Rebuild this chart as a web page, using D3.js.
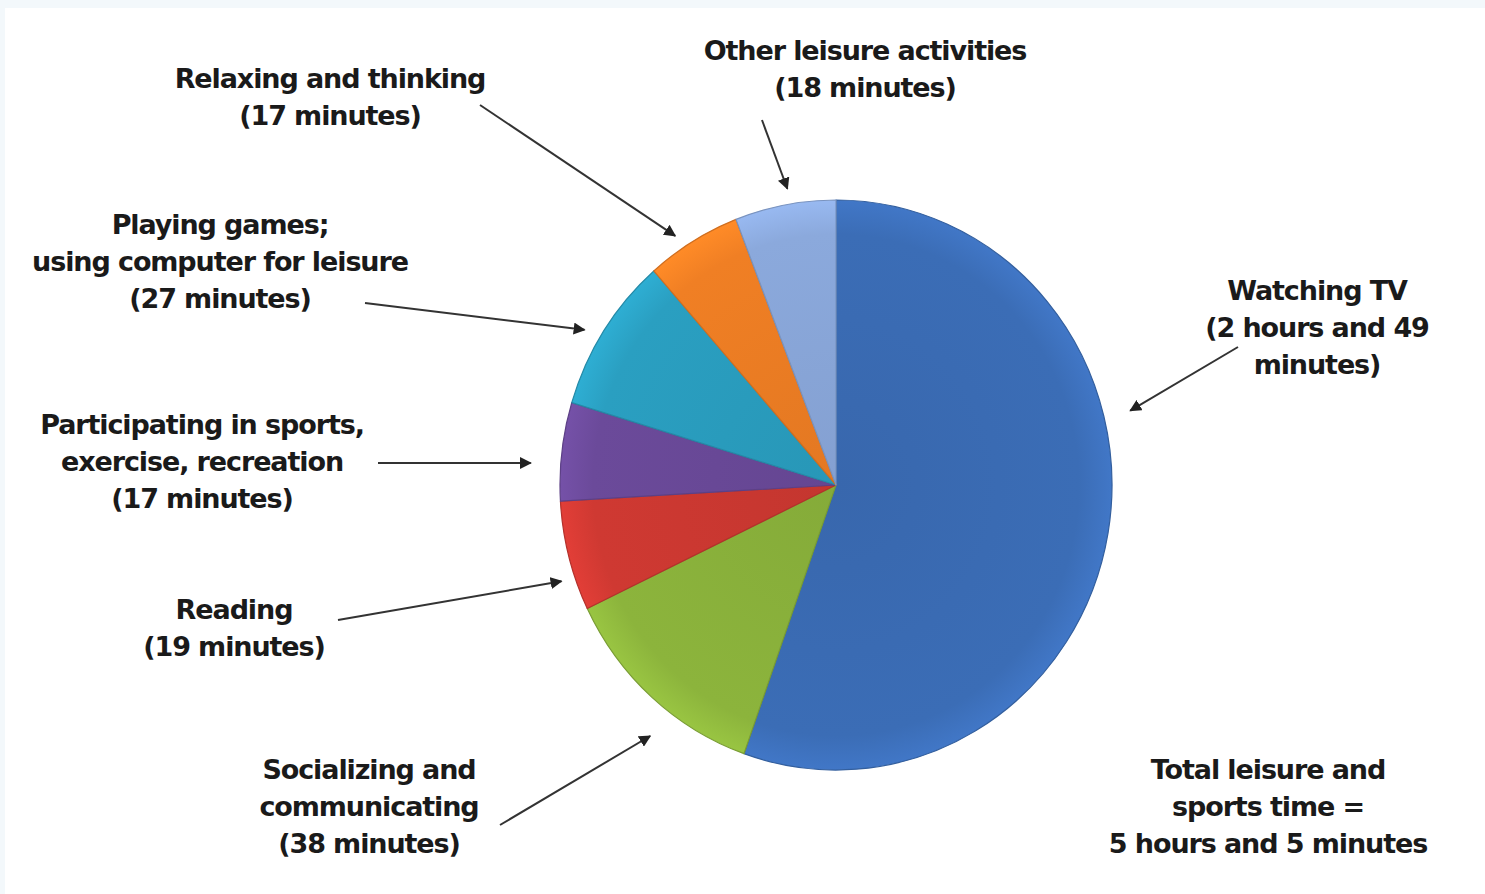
<!DOCTYPE html>
<html><head><meta charset="utf-8">
<script src="https://cdn.jsdelivr.net/npm/d3@7/dist/d3.min.js"></script>
<style>
html,body{margin:0;padding:0;background:#f3f8fb;}
svg{display:block;}
</style></head>
<body>
<script>
// ---- data ----
const categories = ["Watching TV","Socializing and communicating","Reading","Participating in sports, exercise, recreation","Playing games; using computer for leisure","Relaxing and thinking","Other leisure activities"];
const minutes = [169, 38, 19, 17, 27, 17, 18];
const labelLines = [
  ["Watching TV","(2 hours and 49","minutes)"],
  ["Socializing and","communicating","(38 minutes)"],
  ["Reading","(19 minutes)"],
  ["Participating in sports,","exercise, recreation","(17 minutes)"],
  ["Playing games;","using computer for leisure","(27 minutes)"],
  ["Relaxing and thinking","(17 minutes)"],
  ["Other leisure activities","(18 minutes)"]
];
const totalLines = ["Total leisure and","sports time =","5 hours and 5 minutes"];
const colors = ["#3b6db6","#8cb43c","#cf3932","#6b4a9a","#2a9fc1","#f07f24","#8ba9dc"];

// ---- layout ----
const W = 1485, H = 894;
const cx = 836, cy = 485, R = 276, sy = 285/276;
const lineH = 37;
// label center x, first-line center y, arrow start, arrow tip angle offset (deg), tip radius
const layout = [
  {x:1317, y:290, sx:1238, sy:347, dA:-23.5, tr:303},
  {x:369,  y:769, sx:500,  sy:825, dA:-4.5,  tr:306},
  {x:234,  y:609, sx:338,  sy:620, dA:-4.3,  tr:290},
  {x:202,  y:424, sx:378,  sy:463, dA:-2.8,  tr:306},
  {x:220,  y:224, sx:365,  sy:303, dA:-1.9,  tr:293},
  {x:330,  y:78,  sx:480,  sy:105, dA:-2.4,  tr:290},
  {x:865,  y:50,  sx:762,  sy:120, dA:1.0,   tr:291}
];

const svg = d3.select("body").append("svg").attr("width",W).attr("height",H);
svg.append("rect").attr("x",5).attr("y",8).attr("width",W-5).attr("height",H-8).attr("fill","#ffffff");

const defs = svg.append("defs");
defs.append("marker").attr("id","ah").attr("viewBox","0 0 10 10").attr("refX",9).attr("refY",5)
  .attr("markerWidth",6).attr("markerHeight",6).attr("orient","auto")
  .append("path").attr("d","M0,0L10,5L0,10z").attr("fill","#222");

colors.forEach((c,i)=>{
  const g = defs.append("radialGradient").attr("id","g"+i)
    .attr("gradientUnits","userSpaceOnUse").attr("cx",0).attr("cy",0).attr("r",R);
  g.append("stop").attr("offset","0%").attr("stop-color",d3.color(c).darker(0.15));
  g.append("stop").attr("offset","88%").attr("stop-color",c);
  g.append("stop").attr("offset","100%").attr("stop-color",d3.color(c).brighter(0.25));
});

const pie = d3.pie().sort(null).value(d=>d);
const arcs = pie(minutes);
const arc = d3.arc().innerRadius(0).outerRadius(R);

const pg = svg.append("g").attr("transform",`translate(${cx},${cy}) scale(1,${sy})`);
pg.selectAll("path").data(arcs).join("path")
  .attr("d",arc)
  .attr("fill",(d,i)=>`url(#g${i})`)
  .attr("stroke",(d,i)=>d3.color(colors[i]).darker(0.4))
  .attr("stroke-width",1.2)
  .attr("stroke-linejoin","round");

// arrows
arcs.forEach((d,i)=>{
  const L = layout[i];
  const a = (d.startAngle+d.endAngle)/2 + L.dA*Math.PI/180;
  const tx = cx + L.tr*Math.sin(a);
  const ty = cy - L.tr*Math.cos(a)*sy;
  svg.append("line").attr("x1",L.sx).attr("y1",L.sy).attr("x2",tx).attr("y2",ty)
    .attr("stroke","#333").attr("stroke-width",2).attr("marker-end","url(#ah)");
});

function drawLines(lines,x,y){
  const t = svg.append("text").attr("text-anchor","middle")
    .attr("font-family","'DejaVu Sans', sans-serif").attr("font-weight","bold")
    .attr("font-size",27).attr("fill","#1a1a1a").attr("letter-spacing",-1.1);
  lines.forEach((s,k)=>{
    t.append("tspan").attr("x",x).attr("y",y+k*lineH).attr("dy","0.36em").text(s);
  });
}
labelLines.forEach((lines,i)=>drawLines(lines,layout[i].x,layout[i].y));
drawLines(totalLines,1268,769);
</script>
</body></html>
